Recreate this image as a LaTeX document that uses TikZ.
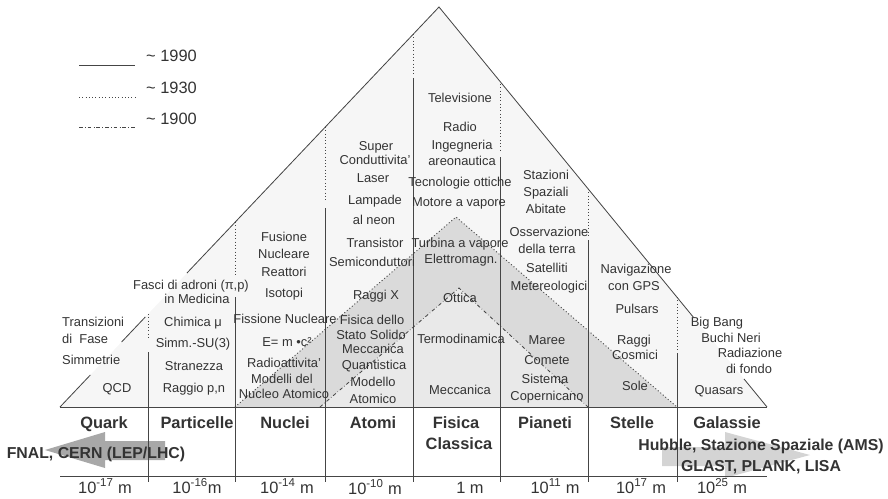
\documentclass[tikz,border=0pt]{standalone}
\usepackage{fontspec}
\setmainfont{Liberation Sans}
\usepackage{tikz}
\usetikzlibrary{calc}
\definecolor{ink}{HTML}{333333}
\definecolor{rule}{HTML}{454545}
\definecolor{pale}{HTML}{F6F6F6}
\definecolor{band}{HTML}{DADADA}
\definecolor{core}{HTML}{E9E9E9}
\definecolor{arrowL}{HTML}{A8A8A8}
\definecolor{arrowR}{HTML}{D4D4D4}
\tikzset{
  era1990/.style={draw=rule, line width=0.7pt},
  era1930/.style={draw=rule, dotted, line width=0.8pt},
  era1900/.style={draw=rule, dash dot, line width=0.7pt},
  lbl/.style={font=\fontsize{11}{12}\selectfont, text=ink, inner sep=0pt, text height=7.9pt, text depth=0pt},
  leg/.style={font=\fontsize{14}{16}\selectfont, text=ink, inner sep=0pt, anchor=west, text height=10pt, text depth=0pt},
  colhead/.style={font=\fontsize{14}{16}\selectfont\bfseries, text=ink, inner sep=0pt, anchor=base},
  sizelbl/.style={font=\fontsize{14}{16}\selectfont, text=ink, inner sep=0pt, anchor=base},
  lab/.style={font=\fontsize{13.5}{15}\selectfont\bfseries, text=ink, inner sep=0pt, text height=9.7pt, text depth=0pt}
}

\begin{document}
\begin{tikzpicture}[x=0.03cm, y=-0.03cm]
\path[use as bounding box] (0,0) rectangle (888,498);
\coordinate (top) at (439,7);
\coordinate (baseL) at (60,407);
\coordinate (baseR) at (767,407);

% shaded regions
\fill[pale] (baseL) -- (top) -- (baseR) -- cycle;
\fill[band] (235,407) -- (456,217) -- (677,407) -- cycle;
\fill[core] (320,407) -- (459,288) -- (588,407) -- cycle;
\draw[era1930] (235,407) -- (456,217) -- (677,407);
\draw[era1900] (320,407) -- (459,288) -- (588,407);

% outer triangle, broken behind the texts
\draw[era1990] (baseL) -- ($(baseL)!0.08!(top)$);
\draw[era1990] ($(baseL)!0.1625!(top)$) -- ($(baseL)!0.225!(top)$);
\draw[era1990] ($(baseL)!0.335!(top)$) -- (top) -- ($(baseR)!0.225!(top)$);
\draw[era1990] ($(baseR)!0.07!(top)$) -- (baseR);

% arrows
\fill[arrowL] (45,450) -- (105,432) -- (105,441) -- (165,441) -- (165,460) -- (105,460) -- (105,468) -- cycle;
\fill[arrowR] (662,447) -- (725,447) -- (725,432) -- (810,455) -- (725,478) -- (725,466) -- (662,466) -- cycle;

% columns
\draw[era1930] (148,314) -- (148,340);
\draw[era1990] (148,352) -- (148,482);
\draw[era1930] (235,222) -- (235,277);
\draw[era1990] (235,297) -- (235,482);
\draw[era1930] (325,127) -- (325,202);
\draw[era1990] (325,208) -- (325,482);
\draw[era1930] (413,34) -- (413,75);
\draw[era1990] (413,78) -- (413,482);
\draw[era1930] (500,84) -- (500,150);
\draw[era1990] (500,157) -- (500,482);
\draw[era1930] (588,189) -- (588,235);
\draw[era1990] (588,240) -- (588,482);
\draw[era1930] (677,297) -- (677,350);
\draw[era1990] (677,353) -- (677,482);
\draw[era1990] (baseL) -- (baseR);
\draw[era1990] (60,476) -- (767,476);

% legend
\draw[era1990] (79,65) -- (135,65);
\draw[era1930] (79,97) -- (135,97);
\draw[era1900] (79,127) -- (135,127);
\node[leg] (leg-1990) at (146,56) {\textasciitilde{} 1990};
\node[leg] (leg-1930) at (146,88) {\textasciitilde{} 1930};
\node[leg] (leg-1900) at (146,119) {\textasciitilde{} 1900};

% Quark
\node[lbl, anchor=west] (qk-1) at (62,322) {Transizioni};
\node[lbl, anchor=west] (qk-2) at (62,339) {di\ \ Fase};
\node[lbl, anchor=west] (qk-3) at (62,360) {Simmetrie};
\node[lbl] (qk-4) at (117,388) {QCD};

% Particelle
\node[lbl] (pt-1) at (191,285) {Fasci di adroni (π,p)};
\node[lbl] (pt-2) at (197,299) {in Medicina};
\node[lbl] (pt-3) at (193,322) {Chimica μ};
\node[lbl] (pt-4) at (193,343) {Simm.-SU(3)};
\node[lbl] (pt-5) at (194,366) {Stranezza};
\node[lbl] (pt-6) at (194,388) {Raggio p,n};

% Nuclei
\node[lbl] (nu-1) at (284,237) {Fusione};
\node[lbl] (nu-2) at (284,254) {Nucleare};
\node[lbl] (nu-3) at (284,272) {Reattori};
\node[lbl] (nu-4) at (284,293) {Isotopi};
\node[lbl] (nu-5) at (285,319) {Fissione Nucleare};
\node[lbl] (nu-6) at (287,342) {E= m •c²};
\node[lbl] (nu-7) at (284,363) {Radioattivita'};
\node[lbl] (nu-8) at (282,379) {Modelli del};
\node[lbl] (nu-9) at (284,394) {Nucleo Atomico};

% Atomi
\node[lbl] (at-1) at (376,146) {Super};
\node[lbl] (at-2) at (375,160) {Conduttivita'};
\node[lbl] (at-3) at (373,178) {Laser};
\node[lbl] (at-4) at (375,200) {Lampade};
\node[lbl] (at-5) at (374,220) {al neon};
\node[lbl] (at-6) at (375,243) {Transistor};
\node[lbl] (at-7) at (372,262) {Semiconduttori};
\node[lbl] (at-8) at (376,295) {Raggi X};
\node[lbl] (at-9) at (372,320) {Fisica dello};
\node[lbl] (at-10) at (371,335) {Stato Solido};
\node[lbl] (at-11) at (373,349) {Meccanica};
\node[lbl] (at-12) at (374,365) {Quantistica};
\node[lbl] (at-13) at (373,382) {Modello};
\node[lbl] (at-14) at (373,399) {Atomico};

% Fisica Classica
\node[lbl] (fc-1) at (460,98) {Televisione};
\node[lbl] (fc-2) at (460,127) {Radio};
\node[lbl] (fc-3) at (462,145) {Ingegneria};
\node[lbl] (fc-4) at (462,161) {areonautica};
\node[lbl] (fc-5) at (460,182) {Tecnologie ottiche};
\node[lbl] (fc-6) at (459,202) {Motore a vapore};
\node[lbl] (fc-7) at (460,243) {Turbina a vapore};
\node[lbl] (fc-8) at (461,259) {Elettromagn.};
\node[lbl] (fc-9) at (460,298) {Ottica};
\node[lbl] (fc-10) at (461,339) {Termodinamica};
\node[lbl] (fc-11) at (460,390) {Meccanica};

% Pianeti
\node[lbl] (pl-1) at (546,175) {Stazioni};
\node[lbl] (pl-2) at (546,192) {Spaziali};
\node[lbl] (pl-3) at (546,209) {Abitate};
\node[lbl] (pl-4) at (549,232) {Osservazione};
\node[lbl] (pl-5) at (547,249) {della terra};
\node[lbl] (pl-6) at (547,268) {Satelliti};
\node[lbl] (pl-7) at (549,286) {Metereologici};
\node[lbl] (pl-8) at (547,340) {Maree};
\node[lbl] (pl-9) at (547,360) {Comete};
\node[lbl] (pl-10) at (545,379) {Sistema};
\node[lbl] (pl-11) at (547,396) {Copernicano};

% Stelle
\node[lbl] (st-1) at (636,269) {Navigazione};
\node[lbl] (st-2) at (634,286) {con GPS};
\node[lbl] (st-3) at (637,309) {Pulsars};
\node[lbl] (st-4) at (634,340) {Raggi};
\node[lbl] (st-5) at (635,355) {Cosmici};
\node[lbl] (st-6) at (635,386) {Sole};

% Galassie
\node[lbl] (ga-1) at (717,322) {Big Bang};
\node[lbl] (ga-2) at (731,338) {Buchi Neri};
\node[lbl] (ga-3) at (750,353) {Radiazione};
\node[lbl] (ga-4) at (749,369) {di fondo};
\node[lbl] (ga-5) at (719,390) {Quasars};

% column heads
\node[colhead] (h-quark) at (104,428) {Quark};
\node[colhead] (h-part) at (197,428) {Particelle};
\node[colhead] (h-nucl) at (285,428) {Nuclei};
\node[colhead] (h-atom) at (373,428) {Atomi};
\node[colhead] (h-fis-1) at (456,428) {Fisica};
\node[colhead] (h-fis-2) at (459,449) {Classica};
\node[colhead] (h-plan) at (545,428) {Pianeti};
\node[colhead] (h-stel) at (632,428) {Stelle};
\node[colhead] (h-gal) at (727,428) {Galassie};

% accelerators and satellites
\node[lab] (acc) at (96,453) {FNAL, CERN (LEP/LHC)};
\node[lab] (sat-1) at (761,445) {Hubble, Stazione Spaziale (AMS)};
\node[lab] (sat-2) at (761,466) {GLAST, PLANK, LISA};

% sizes
\node[sizelbl] (sz-1) at (105,493) {10\textsuperscript{-17} m};
\node[sizelbl] (sz-2) at (197,493) {10\textsuperscript{-16}m};
\node[sizelbl] (sz-3) at (287,493) {10\textsuperscript{-14} m};
\node[sizelbl] (sz-4) at (375,494) {10\textsuperscript{-10} m};
\node[sizelbl] (sz-5) at (470,493) {1 m};
\node[sizelbl] (sz-6) at (555,493) {10\textsuperscript{11} m};
\node[sizelbl] (sz-7) at (641,493) {10\textsuperscript{17} m};
\node[sizelbl] (sz-8) at (722,493) {10\textsuperscript{25} m};
\end{tikzpicture}
\end{document}
